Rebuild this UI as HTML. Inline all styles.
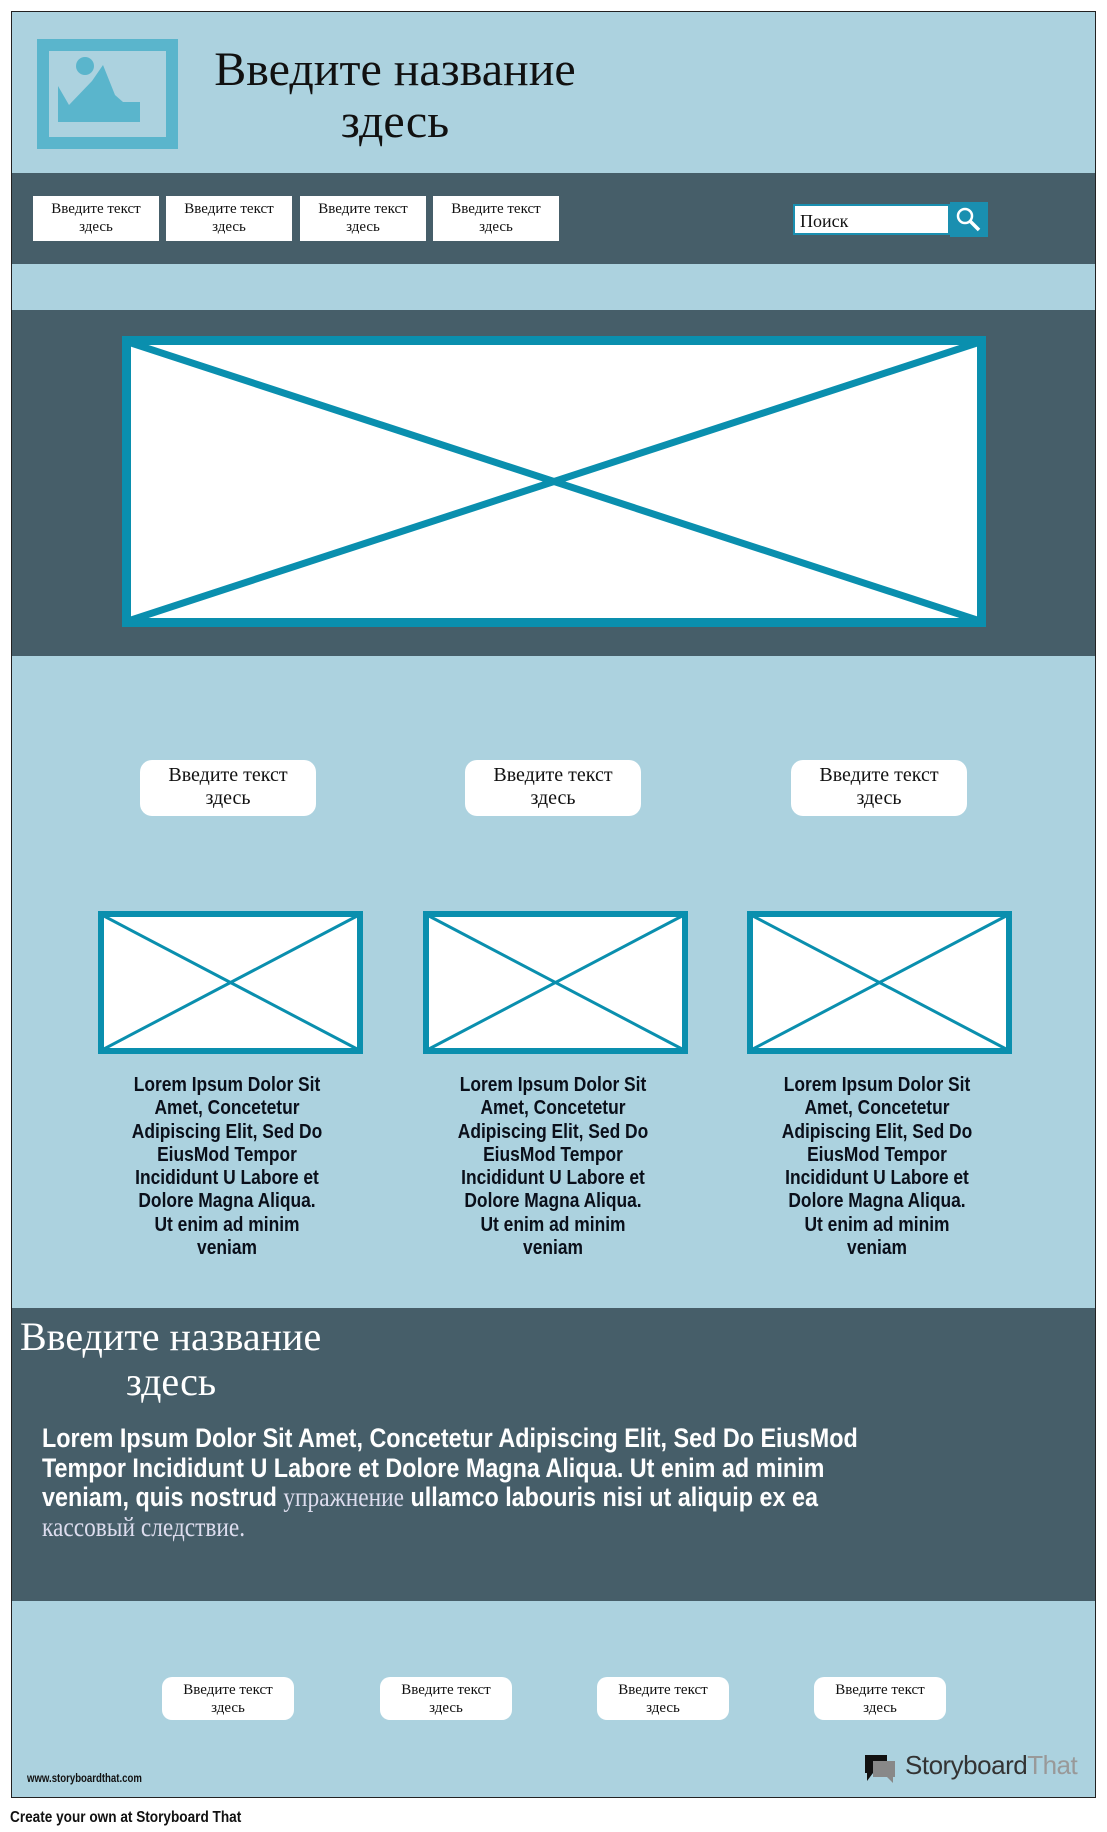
<!DOCTYPE html>
<html><head><meta charset="utf-8"><style>
*{margin:0;padding:0;box-sizing:border-box}
body{width:1107px;height:1832px;background:#fff;position:relative;overflow:hidden;font-family:"Liberation Serif","Noto Serif CJK SC",serif}
.a{position:absolute}
.db{background:#465e69}
.nav{position:absolute;top:196px;height:45px;width:126px;background:#fff;font-size:15px;line-height:18px;text-align:center;padding-top:4px;color:#111}
.rb{position:absolute;top:760px;height:56px;width:176px;margin-left:-88px;background:#fff;border-radius:12px;font-size:20px;line-height:23px;text-align:center;padding-top:4px;color:#111}
.sb{position:absolute;top:1677px;height:43px;width:132px;margin-left:-66px;background:#fff;border-radius:10px;font-size:15px;line-height:18px;text-align:center;padding-top:4px;color:#111}
.lt{position:absolute;top:1074px;width:260px;margin-left:-130px;text-align:center;font-family:"Liberation Sans",sans-serif;font-weight:bold;font-size:20px;line-height:23.3px;color:#0a0f1a;white-space:nowrap;transform:scaleX(.87);transform-origin:center}
</style></head><body>
<div class="a" style="left:11px;top:11px;width:1085px;height:1787px;border:1px solid #222;background:#acd2df"></div>
<div class="a db" style="left:12px;top:173px;width:1083px;height:91px"></div>
<div class="a db" style="left:12px;top:310px;width:1083px;height:346px"></div>
<div class="a db" style="left:12px;top:1308px;width:1083px;height:293px"></div>

<svg class="a" style="left:37px;top:39px" width="141" height="110" viewBox="0 0 141 110">
<rect x="0" y="0" width="141" height="110" fill="#5ab5cc"/>
<rect x="12" y="12" width="117" height="86" fill="#acd2df"/>
<path d="M21 47 L32 66 L55 42 L66 26 L78 56 L86 63 L103 63 L103 83 L21 83Z" fill="#5ab5cc"/>
<circle cx="48" cy="27" r="9" fill="#5ab5cc"/>
</svg>
<div class="a" style="left:190px;top:44px;width:410px;text-align:center;font-size:48px;line-height:52px;color:#111;white-space:nowrap">Введите название<br>здесь</div>

<div class="nav" style="left:33px">Введите текст<br>здесь</div>
<div class="nav" style="left:166px">Введите текст<br>здесь</div>
<div class="nav" style="left:300px">Введите текст<br>здесь</div>
<div class="nav" style="left:433px">Введите текст<br>здесь</div>

<div class="a" style="left:793px;top:204px;width:157px;height:31px;background:#fff;border:2px solid #1a8fb0;font-size:18px;padding:5px 0 0 5px;color:#111">Поиск</div>
<div class="a" style="left:950px;top:202px;width:38px;height:35px;background:#1a8fb0"></div>
<svg class="a" style="left:955px;top:206px" width="28" height="28"><circle cx="10" cy="10" r="7" fill="none" stroke="#fff" stroke-width="2.5"/><line x1="15" y1="15" x2="24" y2="24" stroke="#fff" stroke-width="3.5"/></svg>

<svg class="a" style="left:122px;top:336px" width="864" height="291">
<rect x="4.5" y="4.5" width="855" height="282" fill="#fff" stroke="#0a8fae" stroke-width="9"/>
<line x1="6" y1="6" x2="858" y2="285" stroke="#0a8fae" stroke-width="7"/>
<line x1="858" y1="6" x2="6" y2="285" stroke="#0a8fae" stroke-width="7"/>
</svg>

<div class="rb" style="left:228px">Введите текст<br>здесь</div>
<div class="rb" style="left:553px">Введите текст<br>здесь</div>
<div class="rb" style="left:879px">Введите текст<br>здесь</div>

<svg class="a" style="left:98px;top:911px" width="265" height="143"><rect x="3" y="3" width="259" height="137" fill="#fff" stroke="#0a8fae" stroke-width="6"/><line x1="4" y1="4" x2="261" y2="139" stroke="#0a8fae" stroke-width="3"/><line x1="261" y1="4" x2="4" y2="139" stroke="#0a8fae" stroke-width="3"/></svg>
<svg class="a" style="left:423px;top:911px" width="265" height="143"><rect x="3" y="3" width="259" height="137" fill="#fff" stroke="#0a8fae" stroke-width="6"/><line x1="4" y1="4" x2="261" y2="139" stroke="#0a8fae" stroke-width="3"/><line x1="261" y1="4" x2="4" y2="139" stroke="#0a8fae" stroke-width="3"/></svg>
<svg class="a" style="left:747px;top:911px" width="265" height="143"><rect x="3" y="3" width="259" height="137" fill="#fff" stroke="#0a8fae" stroke-width="6"/><line x1="4" y1="4" x2="261" y2="139" stroke="#0a8fae" stroke-width="3"/><line x1="261" y1="4" x2="4" y2="139" stroke="#0a8fae" stroke-width="3"/></svg>

<div class="lt" style="left:227px">Lorem Ipsum Dolor Sit<br>Amet, Concetetur<br>Adipiscing Elit, Sed Do<br>EiusMod Tempor<br>Incididunt U Labore et<br>Dolore Magna Aliqua.<br>Ut enim ad minim<br>veniam</div>
<div class="lt" style="left:553px">Lorem Ipsum Dolor Sit<br>Amet, Concetetur<br>Adipiscing Elit, Sed Do<br>EiusMod Tempor<br>Incididunt U Labore et<br>Dolore Magna Aliqua.<br>Ut enim ad minim<br>veniam</div>
<div class="lt" style="left:877px">Lorem Ipsum Dolor Sit<br>Amet, Concetetur<br>Adipiscing Elit, Sed Do<br>EiusMod Tempor<br>Incididunt U Labore et<br>Dolore Magna Aliqua.<br>Ut enim ad minim<br>veniam</div>

<div class="a" style="left:20px;top:1314px;font-size:40px;line-height:45px;color:#fff">Введите название<br><span style="padding-left:106px">здесь</span></div>
<div class="a" style="left:42px;top:1424px;white-space:nowrap;font-family:'Liberation Sans',sans-serif;font-weight:bold;font-size:27px;line-height:29.5px;color:#fff;transform:scaleX(.865);transform-origin:left top">Lorem Ipsum Dolor Sit Amet, Concetetur Adipiscing Elit, Sed Do EiusMod<br>Tempor Incididunt U Labore et Dolore Magna Aliqua. Ut enim ad minim<br>veniam, quis nostrud <span style="font-family:'Liberation Serif',serif;font-weight:normal;color:#dde">упражнение</span> ullamco labouris nisi ut aliquip ex ea<br><span style="font-family:'Liberation Serif',serif;font-weight:normal;color:#dde">кассовый следствие.</span></div>

<div class="sb" style="left:228px">Введите текст<br>здесь</div>
<div class="sb" style="left:446px">Введите текст<br>здесь</div>
<div class="sb" style="left:663px">Введите текст<br>здесь</div>
<div class="sb" style="left:880px">Введите текст<br>здесь</div>

<div class="a" style="left:27px;top:1771px;font-family:'Liberation Sans',sans-serif;font-weight:bold;font-size:12px;color:#111;transform:scaleX(.8);transform-origin:left">www.storyboardthat.com</div>
<svg class="a" style="left:863px;top:1753px" width="36" height="32"><path d="M2 2h22v18h-14l-6 8v-8h-2z" fill="#111"/><path d="M10 8h22v16h-2v6l-6-6h-14z" fill="#888"/></svg>
<div class="a" style="left:905px;top:1750px;font-family:'Liberation Sans',sans-serif;font-size:26px;color:#333;letter-spacing:-0.5px">Storyboard<span style="color:#999">That</span></div>

<div class="a" style="left:10px;top:1809px;font-family:'Liberation Sans',sans-serif;font-weight:bold;font-size:16px;color:#111;transform:scaleX(.85);transform-origin:left">Create your own at Storyboard That</div>
</body></html>
